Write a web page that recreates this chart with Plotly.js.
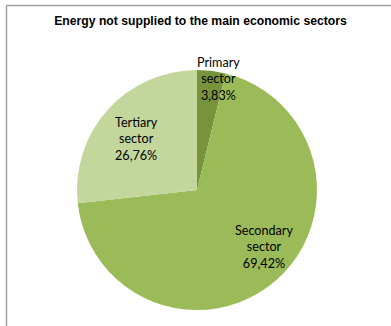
<!DOCTYPE html>
<html>
<head>
<meta charset="utf-8">
<script src="https://cdn.plot.ly/plotly-3.0.1.min.js"></script>
<style>html,body{margin:0;padding:0;background:#fff}#chart{width:391px;height:326px}</style>
</head>
<body>
<div id="chart"></div>
<script>
const sectors = ["Primary sector", "Secondary sector", "Tertiary sector"];
const labelLines = ["Primary<br>sector", "Secondary<br>sector", "Tertiary<br>sector"];
const shares = [3.83, 69.42, 26.76];
const shareText = ["3,83%", "69,42%", "26,76%"];
const colors = ["#77933C", "#9BBB59", "#C3D69B"];

const W = 391, H = 326;
const cx = 197, cy = 190, R = 120;
// label block centres (px) for each sector
const labelPos = [[218.5, 79], [264, 247.5], [136.5, 139]];

const trace = {
  type: "pie",
  labels: sectors,
  values: shares,
  sort: false,
  direction: "clockwise",
  rotation: 0,
  textinfo: "none",
  hoverinfo: "label+percent",
  marker: {colors: colors, line: {width: 0}},
  domain: {x: [(cx - R) / W, (cx + R) / W], y: [(H - cy - R) / H, (H - cy + R) / H]},
  showlegend: false
};

const annotations = sectors.map((s, i) => ({
  xref: "paper", yref: "paper",
  x: labelPos[i][0] / W, y: 1 - labelPos[i][1] / H,
  xanchor: "center", yanchor: "middle",
  text: labelLines[i] + "<br>" + shareText[i],
  showarrow: false,
  align: "center",
  font: {family: "Lato, 'Open Sans', sans-serif", size: 12.6, color: "#000"}
}));

const layout = {
  width: W, height: H,
  margin: {l: 0, r: 0, t: 0, b: 0},
  paper_bgcolor: "#fff",
  title: {
    text: "<b>Energy not supplied to the main economic sectors</b>",
    x: 200.5 / W, xanchor: "center",
    y: 1 - 21 / H, yanchor: "middle", yref: "container",
    font: {family: "'Liberation Sans', Arial, sans-serif", size: 12.2, color: "#000"}
  },
  annotations: annotations,
  shapes: [
    {type: "line", xref: "paper", yref: "paper", x0: 6.5 / W, x1: 1, y0: 1 - 5.5 / H, y1: 1 - 5.5 / H, line: {color: "#A0A0A0", width: 1.5}},
    {type: "line", xref: "paper", yref: "paper", x0: 6.5 / W, x1: 6.5 / W, y0: 0, y1: 1 - 5.5 / H, line: {color: "#A0A0A0", width: 1.5}}
  ]
};

Plotly.newPlot("chart", [trace], layout, {displayModeBar: false, staticPlot: true});
</script>
</body>
</html>
